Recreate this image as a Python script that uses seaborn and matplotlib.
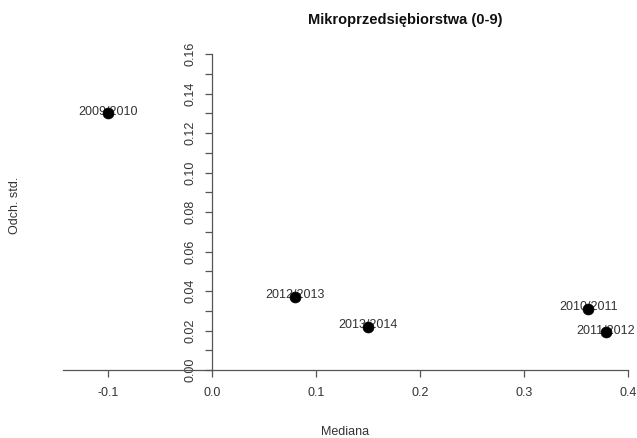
import matplotlib
matplotlib.use("Agg")
import matplotlib.pyplot as plt
import seaborn as sns
import pandas as pd
import numpy as np

# Median vs. standard deviation of growth, by period
periods = ["2009/2010", "2012/2013", "2013/2014", "2010/2011", "2011/2012"]
mediana = [-0.100, 0.080, 0.150, 0.362, 0.379]
odch_std = [0.130, 0.037, 0.022, 0.031, 0.019]

x_ticks = [-0.1, 0.0, 0.1, 0.2, 0.3, 0.4]
x_tick_labels = ["-0.1", "0.0", "0.1", "0.2", "0.3", "0.4"]
y_ticks = [0.00, 0.01, 0.02, 0.03, 0.04, 0.05, 0.06, 0.07, 0.08,
           0.09, 0.10, 0.11, 0.12, 0.13, 0.14, 0.15, 0.16]
y_tick_labels = ["0.00", "", "0.02", "", "0.04", "", "0.06", "", "0.08",
                 "", "0.10", "", "0.12", "", "0.14", "", "0.16"]

df = pd.DataFrame({"Mediana": mediana, "Odch": odch_std, "Okres": periods})

sns.set_style("white")
plt.rcParams["font.family"] = ["Liberation Sans", "DejaVu Sans"]

W, H = 637, 438
fig = plt.figure(figsize=(W / 100, H / 100), dpi=100)

xlim = (-0.144, 0.408)
ylim = (-0.01, 0.17)
# pixel geometry of the data area
x0_px, x_scale = 212.2, 1039.0
y0_px, y_scale = 370.0, 1975.0
left_px = x0_px + x_scale * xlim[0]
right_px = x0_px + x_scale * xlim[1]
bottom_px = y0_px - y_scale * ylim[0]
top_px = y0_px - y_scale * ylim[1]
ax = fig.add_axes([left_px / W, 1 - bottom_px / H,
                   (right_px - left_px) / W, (bottom_px - top_px) / H])
ax.set_xlim(*xlim)
ax.set_ylim(*ylim)

axis_col = "#555555"
text_col = "#333333"

# point labels sit centred on each point, point drawn on top
for px, py, lab in zip(df["Mediana"], df["Odch"], df["Okres"]):
    ax.text(px, py + 0.0008, lab, ha="center", va="center",
            fontsize=9, color=text_col, zorder=2)

sns.scatterplot(data=df, x="Mediana", y="Odch", ax=ax, color="black",
                s=62, edgecolor="black", linewidth=0.5, zorder=3, legend=False)

# axes crossing at the origin
for side in ["top", "right"]:
    ax.spines[side].set_visible(False)
ax.spines["bottom"].set_position(("data", 0))
ax.spines["left"].set_position(("data", 0))
ax.spines["bottom"].set_bounds(-0.144, 0.4)
ax.spines["left"].set_bounds(0.0, 0.16)
for side in ["bottom", "left"]:
    ax.spines[side].set_color(axis_col)
    ax.spines[side].set_linewidth(0.9)

ax.set_xticks(x_ticks)
ax.set_xticklabels(x_tick_labels)
ax.set_yticks(y_ticks)
ax.set_yticklabels(y_tick_labels, rotation=90, va="center")
ax.tick_params(axis="both", direction="out", length=5, width=0.9,
               color=axis_col, labelsize=9, labelcolor=text_col, pad=6)
ax.tick_params(axis="x", bottom=True, pad=7)
ax.tick_params(axis="y", left=True)
ax.set_xlabel("")
ax.set_ylabel("")

fig.text(405 / W, 1 - 20 / H, "Mikroprzedsiębiorstwa (0-9)", ha="center",
         va="center", fontsize=10.5, fontweight="bold", color="#111111")
fig.text(345 / W, 1 - 432 / H, "Mediana", ha="center", va="center",
         fontsize=9, color=text_col)
fig.text(15 / W, 1 - 205 / H, "Odch. std.", ha="center", va="center",
         fontsize=9, color=text_col, rotation=90)

fig.savefig("out.png", dpi=100, facecolor="white")
